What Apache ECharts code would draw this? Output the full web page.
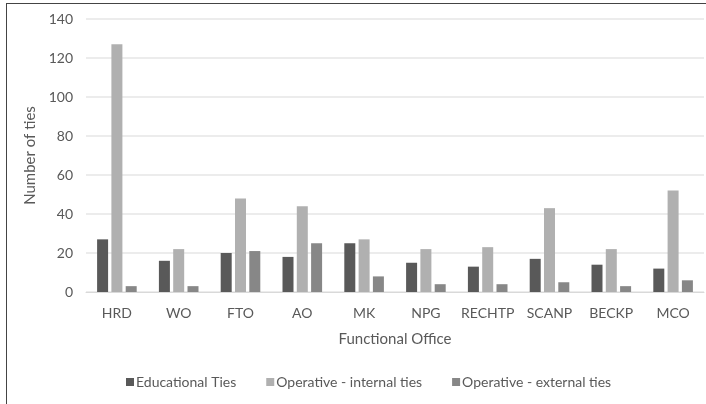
<!DOCTYPE html>
<html>
<head>
<meta charset="utf-8">
<title></title>
<style>
  html, body { margin: 0; padding: 0; background: #fff; }
  #frame { position: absolute; left: 6px; top: 3px; width: 720px; height: 420px; border: 1.5px solid #444; box-sizing: border-box; }
  #container { position: absolute; left: 0; top: 0; width: 706px; height: 404px; }
</style>
</head>
<body>
<div id="frame"></div>
<div id="container"></div>
<script type="text/javascript" src="https://cdn.jsdelivr.net/npm/echarts@6/dist/echarts.min.js"></script>
<script type="text/javascript">
var offices = ['HRD', 'WO', 'FTO', 'AO', 'MK', 'NPG', 'RECHTP', 'SCANP', 'BECKP', 'MCO'];
var educational = [27, 16, 20, 18, 25, 15, 13, 17, 14, 12];
var internalTies = [127, 22, 48, 44, 27, 22, 23, 43, 22, 52];
var externalTies = [3, 3, 21, 25, 8, 4, 4, 5, 3, 6];

var font = 'Lato, sans-serif';
var textColor = '#595959';

var myChart = echarts.init(document.getElementById('container'));
myChart.setOption({
    animation: false,
    grid: { left: 86, right: 2, top: 19, bottom: 112 },
    legend: {
        bottom: 10,
        left: 121,
        itemWidth: 8,
        itemHeight: 8,
        itemGap: 30,
        icon: 'rect',
        textStyle: { color: textColor, fontSize: 14, fontFamily: font, padding: [0, 0, 0, -3] }
    },
    xAxis: {
        type: 'category',
        data: offices,
        name: 'Functional Office',
        nameLocation: 'middle',
        nameGap: 40,
        nameTextStyle: { color: textColor, fontSize: 15, fontFamily: font },
        axisLine: { lineStyle: { color: '#d9d9d9' } },
        axisTick: { show: false },
        axisLabel: { interval: 0, color: textColor, fontSize: 14, fontFamily: font, margin: 14 }
    },
    yAxis: {
        type: 'value',
        min: 0,
        max: 140,
        interval: 20,
        name: 'Number of ties',
        nameLocation: 'middle',
        nameGap: 43,
        nameTextStyle: { color: textColor, fontSize: 15, fontFamily: font },
        axisLine: { show: false },
        axisTick: { show: false },
        axisLabel: { color: textColor, fontSize: 14, fontFamily: font, margin: 13 },
        splitLine: { lineStyle: { color: '#e6e6e6', width: 1.5 } }
    },
    series: [
        { name: 'Educational Ties', type: 'bar', data: educational, barWidth: 11, barGap: '30%',
          itemStyle: { color: '#595959' } },
        { name: 'Operative - internal ties', type: 'bar', data: internalTies, barWidth: 11, barGap: '30%',
          itemStyle: { color: '#b0b0b0' } },
        { name: 'Operative - external ties', type: 'bar', data: externalTies, barWidth: 11, barGap: '30%',
          itemStyle: { color: '#878787' } }
    ]
});
</script>
</body>
</html>
